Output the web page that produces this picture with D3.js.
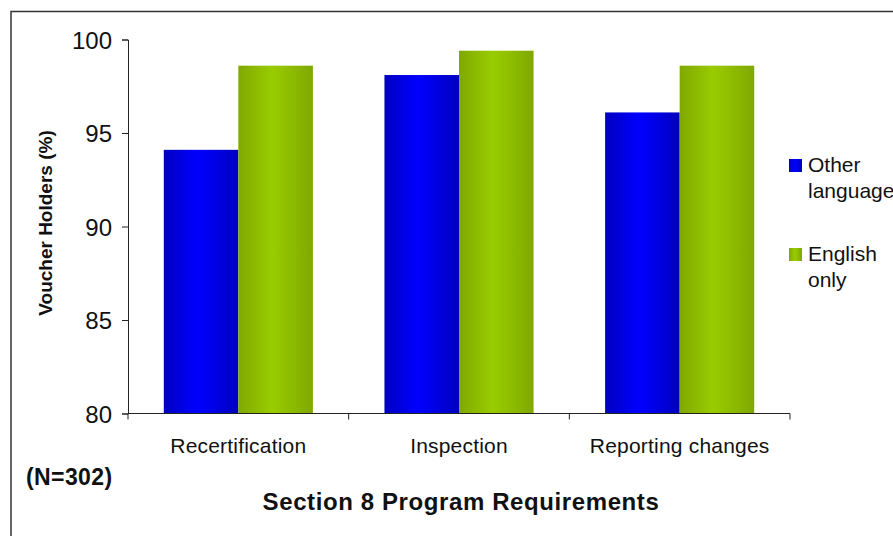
<!DOCTYPE html>
<html>
<head>
<meta charset="utf-8">
<script src="https://cdn.jsdelivr.net/npm/d3@7"></script>
<style>
  html, body { margin: 0; padding: 0; background: #fff; }
  svg { display: block; font-family: "Liberation Sans", Arial, Helvetica, sans-serif; }
</style>
</head>
<body>
<svg id="chart" width="893" height="536"></svg>
<script>
// Share of voucher holders who understand each Section 8 requirement
const categories = ["Recertification", "Inspection", "Reporting changes"];
const seriesNames = ["Other language", "English only"];
const otherLanguage = [94.1, 98.1, 96.1];
const englishOnly = [98.6, 99.4, 98.6];
const yTicks = [80, 85, 90, 95, 100];

const svg = d3.select("#chart");
const W = 893, H = 536;

// Outer frame (right and bottom edges fall outside the view)
svg.append("rect")
  .attr("x", 11).attr("y", 11.5)
  .attr("width", W + 20).attr("height", H + 20)
  .attr("fill", "#fff").attr("stroke", "#333").attr("stroke-width", 1.5);

// Horizontal cylinder-like gradients for the bars
const defs = svg.append("defs");
function grad(id, edge, mid) {
  const g = defs.append("linearGradient").attr("id", id)
    .attr("x1", "0%").attr("x2", "100%").attr("y1", "0%").attr("y2", "0%");
  g.append("stop").attr("offset", "0%").attr("stop-color", edge);
  g.append("stop").attr("offset", "45%").attr("stop-color", mid);
  g.append("stop").attr("offset", "100%").attr("stop-color", edge);
}
grad("gBlue", "#0000c0", "#0000ff");
grad("gGreen", "#80a800", "#99cc00");
const fills = ["url(#gBlue)", "url(#gGreen)"];

const plot = { left: 128, right: 790, top: 39.5, bottom: 413.5 };

const x0 = d3.scaleBand().domain(categories)
  .range([plot.left, plot.right]).paddingInner(0).paddingOuter(0);
const x1 = d3.scaleBand().domain(seriesNames)
  .range([0, x0.bandwidth()]).paddingInner(0).paddingOuter(0.48);
const y = d3.scaleLinear().domain([80, 100]).range([plot.bottom, plot.top]);

const rows = categories.map((c, i) => ({
  cat: c,
  vals: [
    { s: seriesNames[0], v: otherLanguage[i] },
    { s: seriesNames[1], v: englishOnly[i] }
  ]
}));

// Bars
const groups = svg.append("g").selectAll("g").data(rows).join("g")
  .attr("transform", d => `translate(${x0(d.cat)},0)`);
groups.selectAll("rect").data(d => d.vals).join("rect")
  .attr("x", d => x1(d.s))
  .attr("y", d => y(d.v))
  .attr("width", x1.bandwidth())
  .attr("height", d => y(80) - y(d.v))
  .attr("fill", (d, i) => fills[i]);

// Y axis
const yAxis = svg.append("g")
  .attr("transform", `translate(${plot.left},0)`)
  .call(d3.axisLeft(y).tickValues(yTicks).tickSize(6).tickPadding(10));
yAxis.select(".domain").attr("stroke", "#222");
yAxis.selectAll(".tick line").attr("stroke", "#222");
yAxis.selectAll(".tick text")
  .attr("font-size", 24).attr("fill", "#111")
  .attr("font-family", "'Liberation Sans', Arial, sans-serif")
  .attr("dy", "0.36em");

// X axis with ticks at category boundaries
const xAxis = svg.append("g").attr("transform", `translate(0,${plot.bottom})`);
xAxis.append("line")
  .attr("x1", plot.left).attr("x2", plot.right)
  .attr("stroke", "#222");
const bounds = categories.map(c => x0(c)).concat([x0(categories[categories.length - 1]) + x0.bandwidth()]);
xAxis.selectAll("line.tk").data(bounds).join("line").attr("class", "tk")
  .attr("x1", d => d).attr("x2", d => d).attr("y1", 0).attr("y2", 6)
  .attr("stroke", "#222");
xAxis.selectAll("text").data(categories).join("text")
  .attr("x", d => x0(d) + x0.bandwidth() / 2)
  .attr("y", 39)
  .attr("text-anchor", "middle")
  .attr("font-size", 21).attr("letter-spacing", 0.2).attr("fill", "#111")
  .text(d => d);

// Axis titles
svg.append("text")
  .attr("transform", "translate(52,223) rotate(-90)")
  .attr("text-anchor", "middle")
  .attr("font-size", 19).attr("font-weight", "bold").attr("fill", "#111")
  .text("Voucher Holders (%)");

svg.append("text")
  .attr("x", 461).attr("y", 510)
  .attr("text-anchor", "middle")
  .attr("font-size", 24).attr("font-weight", "bold").attr("letter-spacing", 0.6)
  .attr("fill", "#111")
  .text("Section 8 Program Requirements");

svg.append("text")
  .attr("x", 26).attr("y", 485)
  .attr("font-size", 23).attr("font-weight", "bold").attr("letter-spacing", 0.4)
  .attr("fill", "#111")
  .text("(N=302)");

// Legend
const legend = svg.append("g");
const legendLines = [["Other", "language"], ["English", "only"]];
const legendTop = [159, 248];
legendLines.forEach((lines, i) => {
  legend.append("rect")
    .attr("x", 789).attr("y", legendTop[i])
    .attr("width", 13).attr("height", 13)
    .attr("fill", fills[i]);
  const t = legend.append("text")
    .attr("x", 808).attr("y", legendTop[i] + 13)
    .attr("font-size", 21).attr("fill", "#111");
  lines.forEach((ln, j) => {
    t.append("tspan").attr("x", 808).attr("dy", j === 0 ? 0 : 26).text(ln);
  });
});
</script>
</body>
</html>
